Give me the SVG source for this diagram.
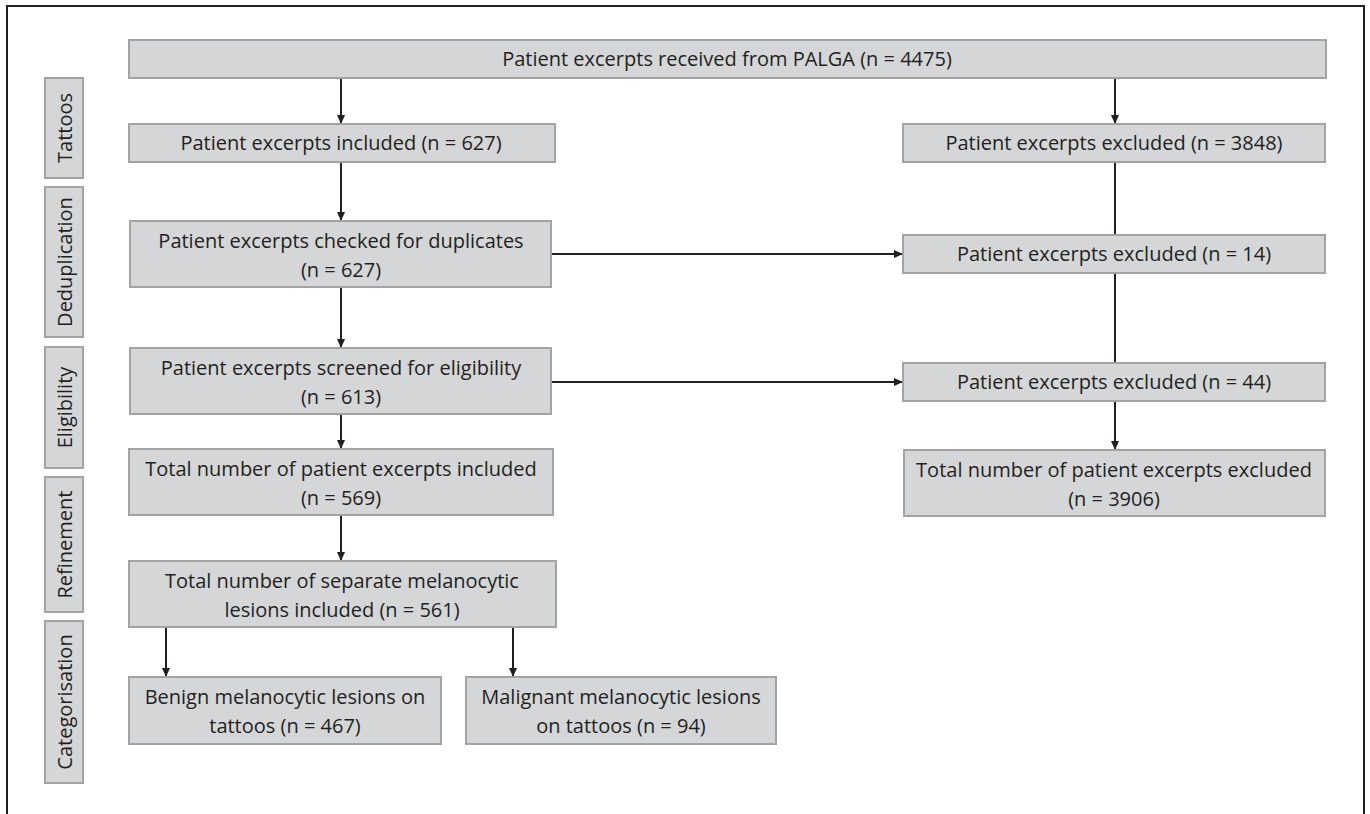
<svg xmlns="http://www.w3.org/2000/svg" width="1370" height="814" viewBox="0 0 1370 814">
<style>
.box{fill:#d5d6d8;stroke:#a3a3a3;stroke-width:2}
.t{font-family:"Open Sans","Noto Sans","Liberation Sans",sans-serif;font-size:20px;fill:#231f20;text-anchor:middle}
.c{stroke:#231f20;stroke-width:2;fill:none}
.frame{stroke:#231f20;stroke-width:2;fill:none}
</style>
<defs>
<marker id="ah" markerWidth="10" markerHeight="10" refX="9" refY="5" orient="auto" markerUnits="userSpaceOnUse">
<path d="M0,1 L9,5 L0,9 Z" fill="#231f20"/>
</marker>
</defs>
<rect width="1370" height="814" fill="#fff"/>
<path class="frame" d="M7,814 V6 H1364 V814"/>

<g id="side-tattoos"><rect class="box" x="45" y="78" width="38" height="100"/><text class="t" transform="translate(72,128) rotate(-90)">Tattoos</text></g>
<g id="side-deduplication"><rect class="box" x="45" y="187" width="38" height="150"/><text class="t" transform="translate(72,262) rotate(-90)">Deduplication</text></g>
<g id="side-eligibility"><rect class="box" x="45" y="347" width="38" height="121"/><text class="t" transform="translate(72,407.5) rotate(-90)">Eligibility</text></g>
<g id="side-refinement"><rect class="box" x="45" y="477" width="38" height="135"/><text class="t" transform="translate(72,544.5) rotate(-90)">Refinement</text></g>
<g id="side-categorisation"><rect class="box" x="45" y="621" width="38" height="162"/><text class="t" transform="translate(72,702) rotate(-90)">Categorisation</text></g>

<g id="connectors">
<line class="c" x1="341" y1="78" x2="341" y2="124" marker-end="url(#ah)"/>
<line class="c" x1="1115" y1="78" x2="1115" y2="124" marker-end="url(#ah)"/>
<line class="c" x1="341" y1="162" x2="341" y2="221" marker-end="url(#ah)"/>
<line class="c" x1="1115" y1="162" x2="1115" y2="235"/>
<line class="c" x1="551" y1="254" x2="903" y2="254" marker-end="url(#ah)"/>
<line class="c" x1="341" y1="287" x2="341" y2="348" marker-end="url(#ah)"/>
<line class="c" x1="1115" y1="273" x2="1115" y2="363"/>
<line class="c" x1="551" y1="382" x2="903" y2="382" marker-end="url(#ah)"/>
<line class="c" x1="341" y1="414" x2="341" y2="449" marker-end="url(#ah)"/>
<line class="c" x1="1115" y1="401" x2="1115" y2="450" marker-end="url(#ah)"/>
<line class="c" x1="341" y1="515" x2="341" y2="561" marker-end="url(#ah)"/>
<line class="c" x1="166" y1="627" x2="166" y2="677" marker-end="url(#ah)"/>
<line class="c" x1="513" y1="627" x2="513" y2="677" marker-end="url(#ah)"/>
</g>

<g id="n-received"><rect class="box" x="129" y="40" width="1197" height="38"/><text class="t" x="727" y="66">Patient excerpts received from PALGA (n = 4475)</text></g>
<g id="n-included"><rect class="box" x="129" y="124" width="426" height="38"/><text class="t" x="341" y="150">Patient excerpts included (n = 627)</text></g>
<g id="n-excluded-3848"><rect class="box" x="903" y="124" width="422" height="38"/><text class="t" x="1114" y="150">Patient excerpts excluded (n = 3848)</text></g>
<g id="n-checked"><rect class="box" x="130" y="221" width="421" height="66"/><text class="t" x="341" y="248">Patient excerpts checked for duplicates</text><text class="t" x="341" y="277">(n = 627)</text></g>
<g id="n-excluded-14"><rect class="box" x="903" y="235" width="422" height="38"/><text class="t" x="1114" y="261">Patient excerpts excluded (n = 14)</text></g>
<g id="n-screened"><rect class="box" x="130" y="348" width="421" height="66"/><text class="t" x="341" y="375">Patient excerpts screened for eligibility</text><text class="t" x="341" y="404">(n = 613)</text></g>
<g id="n-excluded-44"><rect class="box" x="903" y="363" width="422" height="38"/><text class="t" x="1114" y="389">Patient excerpts excluded (n = 44)</text></g>
<g id="n-total-included"><rect class="box" x="129" y="449" width="424" height="66"/><text class="t" x="341" y="476">Total number of patient excerpts included</text><text class="t" x="341" y="505">(n = 569)</text></g>
<g id="n-total-excluded"><rect class="box" x="904" y="450" width="421" height="66"/><text class="t" x="1114" y="477">Total number of patient excerpts excluded</text><text class="t" x="1114" y="506">(n = 3906)</text></g>
<g id="n-separate"><rect class="box" x="129" y="561" width="427" height="66"/><text class="t" x="342" y="588">Total number of separate melanocytic</text><text class="t" x="342" y="617">lesions included (n = 561)</text></g>
<g id="n-benign"><rect class="box" x="129" y="677" width="312" height="67"/><text class="t" x="285" y="704">Benign melanocytic lesions on</text><text class="t" x="285" y="733">tattoos (n = 467)</text></g>
<g id="n-malignant"><rect class="box" x="466" y="677" width="310" height="67"/><text class="t" x="621" y="704">Malignant melanocytic lesions</text><text class="t" x="621" y="733">on tattoos (n = 94)</text></g>
</svg>
